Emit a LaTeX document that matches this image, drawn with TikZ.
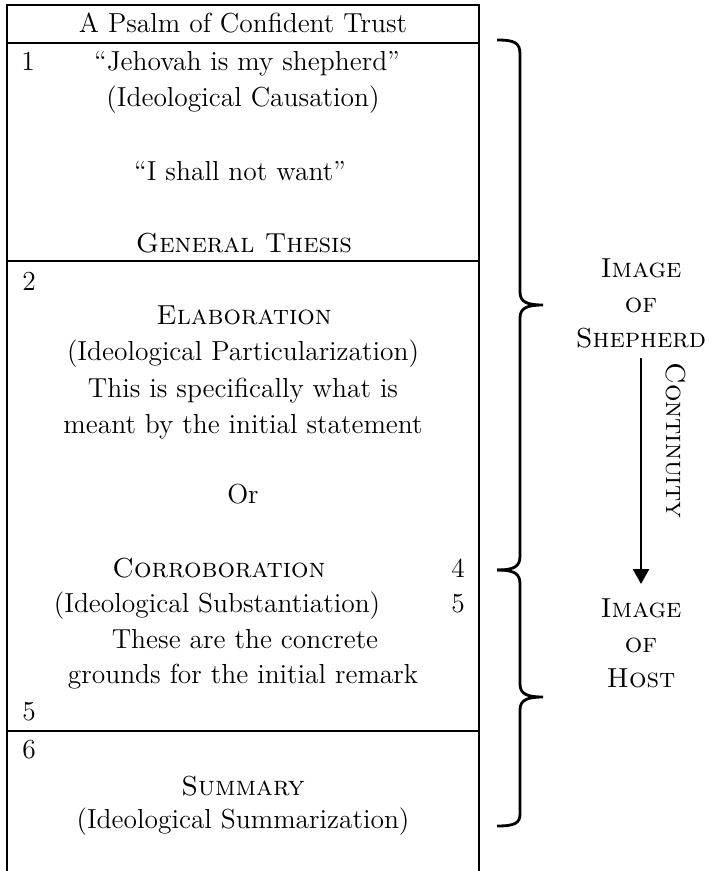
\documentclass[tikz,border=0pt]{standalone}
\usetikzlibrary{arrows.meta}

\begin{document}
\begin{tikzpicture}[x=0.5pt, y=-0.5pt, font=\fontsize{13.75}{17.5}\selectfont]
    \tikzstyle{psalm line} = [anchor=base, inner sep=0pt]
    \tikzstyle{box rule} = [draw=black, line width=1.2pt]
    \tikzstyle{brace line} = [draw=black, line width=1.4pt]
    \tikzstyle{image label} = [inner sep=0pt, align=center]
    \tikzstyle{flow arrow} = [draw=black, line width=1.35pt, ->, >={Triangle[width=8pt,length=7.5pt]}, shorten <=5pt, shorten >=7pt]
\useasboundingbox (0,0) rectangle (711,871);
% the table
\draw[box rule] (7,875) -- (7,5) -- (479,5) -- (479,875);
\draw[box rule] (7,43) -- (479,43);
\draw[box rule] (7,261) -- (479,261);
\draw[box rule] (7,731) -- (479,731);
\node[psalm line] (title) at (243,33) {A Psalm of Confident Trust};
\node[psalm line] (n1) at (28,71) {1};
\node[psalm line] (s1a) at (247,71) {``Jehovah is my shepherd''};
\node[psalm line] (s1b) at (243,107) {(Ideological Causation)};
\node[psalm line] (s1c) at (240,181) {``I shall not want''};
\node[psalm line] (s1d) at (244,253) {\textsc{General Thesis}};
\node[psalm line] (n2) at (29,291) {2};
\node[psalm line] (s2a) at (244,324) {\textsc{Elaboration}};
\node[psalm line] (s2b) at (243,360) {(Ideological Particularization)};
\node[psalm line] (s2c) at (243,397) {This is specifically what is};
\node[psalm line] (s2d) at (243,433) {meant by the initial statement};
\node[psalm line] (s2e) at (243,503) {Or};
\node[psalm line] (s2f) at (219,577) {\textsc{Corroboration}};
\node[psalm line] (n4) at (458,577) {4};
\node[psalm line] (s2g) at (217,612) {(Ideological Substantiation)};
\node[psalm line] (n5a) at (458,612) {5};
\node[psalm line] (s2h) at (245,648) {These are the concrete};
\node[psalm line] (s2i) at (243,683) {grounds for the initial remark};
\node[psalm line] (n5b) at (29,720) {5};
\node[psalm line] (n6) at (29,758) {6};
\node[psalm line] (s3a) at (243,795) {\textsc{Summary}};
\node[psalm line] (s3b) at (243,828) {(Ideological Summarization)};
% braces
\draw[brace line] (497,40) .. controls (515,40) and (520,43) .. (520,54) -- (520,292)
    .. controls (520,302) and (527,305) .. (543,305)
    .. controls (527,305) and (520,308) .. (520,318) -- (520,556)
    .. controls (520,566) and (515,570) .. (497,570);
\draw[brace line] (497,570) .. controls (515,570) and (520,574) .. (520,584) -- (520,684)
    .. controls (520,694) and (527,697) .. (543,697)
    .. controls (527,697) and (520,700) .. (520,710) -- (520,814)
    .. controls (520,823) and (515,826) .. (497,826);
% images
\node[image label] (shepherd) at (641,303) {\textsc{Image}\\\textsc{of}\\\textsc{Shepherd}};
\node[image label] (host) at (641,643) {\textsc{Image}\\\textsc{of}\\\textsc{Host}};
\draw[flow arrow] (shepherd) -- node[pos=0.37, rotate=-90, anchor=south, inner xsep=0pt, inner ysep=12pt] (cont) {\textsc{Continuity}} (host);
\end{tikzpicture}
\end{document}
